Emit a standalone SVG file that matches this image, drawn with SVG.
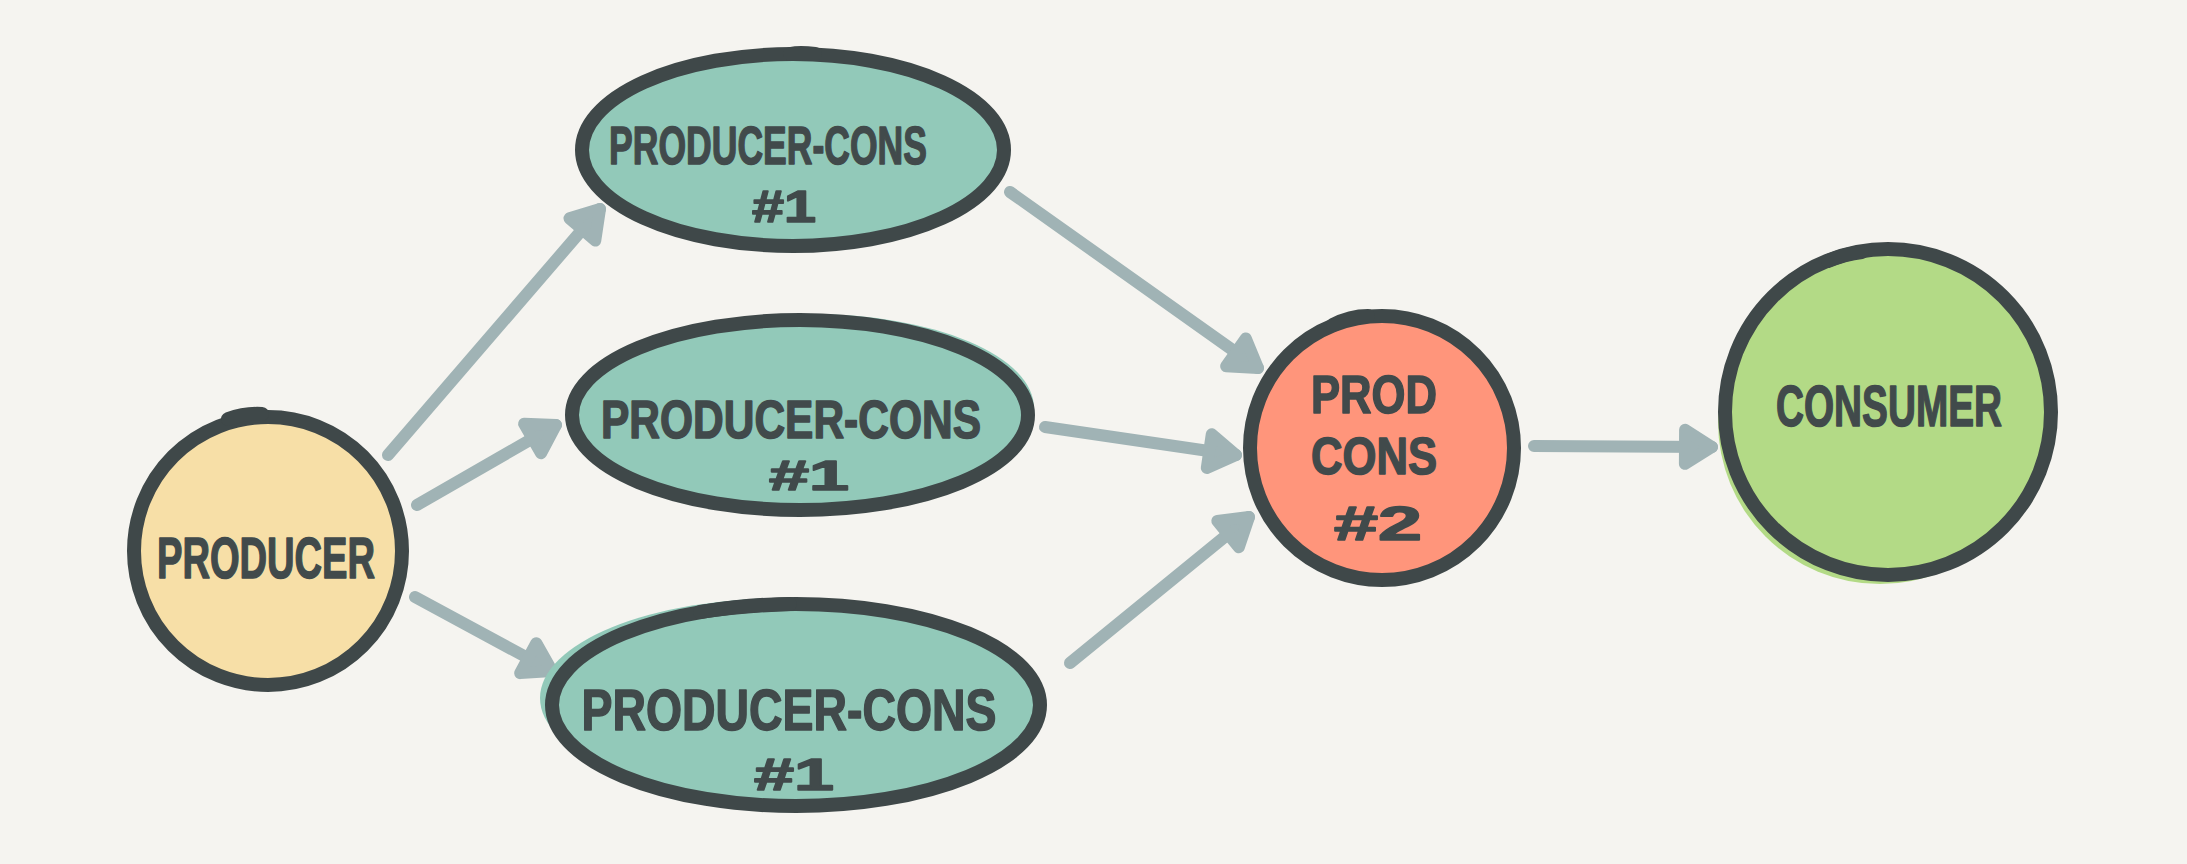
<svg xmlns="http://www.w3.org/2000/svg" width="2187" height="864" viewBox="0 0 2187 864">
<defs>
<style>
.bg{fill:#f5f4f0}
.outline{fill:none;stroke:#3f4849;stroke-width:14}
.yellow{fill:#f7dfa7}
.teal{fill:#92c9b9}
.salmon{fill:#ff957b}
.green{fill:#b3da86}
.lbl{font-family:"Liberation Sans","DejaVu Sans",sans-serif;font-weight:bold;fill:#414a4b;stroke:#414a4b;stroke-width:1.5;stroke-linejoin:round}
.edge{fill:none;stroke:#a0b3b5;stroke-width:12;stroke-linecap:round;stroke-linejoin:round}
</style>
<marker id="arrow" markerUnits="userSpaceOnUse" markerWidth="80" markerHeight="80" refX="0" refY="0" orient="auto" overflow="visible">
<path d="M-27,-17 L0,0 L-27,17 Z" fill="#a0b3b5" stroke="#a0b3b5" stroke-width="12" stroke-linejoin="round" stroke-linecap="round"/>
</marker>
</defs>
<rect class="bg" x="0" y="0" width="2187" height="864"/>

<g id="connectors">
<path class="edge" d="M388,455 L600,209" marker-end="url(#arrow)"/>
<path class="edge" d="M417,505 L556,425" marker-end="url(#arrow)"/>
<path class="edge" d="M415,597 L552,671" marker-end="url(#arrow)"/>
<path class="edge" d="M1010,192 L1258,368" marker-end="url(#arrow)"/>
<path class="edge" d="M1045,427 L1236,455" marker-end="url(#arrow)"/>
<path class="edge" d="M1070,663 L1249,517" marker-end="url(#arrow)"/>
<path class="edge" d="M1534,446 L1712,447" marker-end="url(#arrow)"/>
</g>

<g id="producer">
<circle class="yellow" cx="272" cy="548" r="134"/>
<circle class="yellow" cx="268" cy="551" r="134"/>
<circle class="outline" cx="268" cy="551" r="134"/>
<path class="outline" d="M228,419 Q245,413 262,414" stroke-linecap="round"/>
<text class="lbl" x="266" y="578" font-size="58" text-anchor="middle" textLength="218" lengthAdjust="spacingAndGlyphs">PRODUCER</text>
</g>

<g id="producer-cons-1-top">
<ellipse class="teal" cx="798" cy="153" rx="208" ry="94"/>
<ellipse class="teal" cx="793" cy="150" rx="211" ry="96"/>
<ellipse class="outline" cx="793" cy="150" rx="211" ry="96"/>
<path class="outline" d="M790,54 Q800,52 815,54" stroke-linecap="round"/>
<text class="lbl" x="768" y="164" font-size="54" text-anchor="middle" textLength="318" lengthAdjust="spacingAndGlyphs">PRODUCER-CONS</text>
<text class="lbl" x="784" y="222" font-size="44" text-anchor="middle" textLength="64" lengthAdjust="spacingAndGlyphs">#1</text>
</g>

<g id="producer-cons-1-middle">
<ellipse class="teal" cx="812" cy="408" rx="222" ry="94"/>
<ellipse class="teal" cx="800" cy="415" rx="228" ry="95"/>
<ellipse class="outline" cx="800" cy="415" rx="228" ry="95"/>
<text class="lbl" x="791" y="438" font-size="54" text-anchor="middle" textLength="380" lengthAdjust="spacingAndGlyphs">PRODUCER-CONS</text>
<text class="lbl" x="809" y="490" font-size="42" text-anchor="middle" textLength="80" lengthAdjust="spacingAndGlyphs">#1</text>
</g>

<g id="producer-cons-1-bottom">
<ellipse class="teal" cx="786" cy="698" rx="246" ry="100"/>
<ellipse class="teal" cx="796" cy="705" rx="244" ry="101"/>
<ellipse class="outline" cx="796" cy="705" rx="244" ry="101"/>
<path class="outline" d="M700,612 Q740,606 790,604" stroke-linecap="round"/>
<text class="lbl" x="789" y="730" font-size="58" text-anchor="middle" textLength="415" lengthAdjust="spacingAndGlyphs">PRODUCER-CONS</text>
<text class="lbl" x="794" y="790" font-size="44" text-anchor="middle" textLength="80" lengthAdjust="spacingAndGlyphs">#1</text>
</g>

<g id="prod-cons-2">
<circle class="salmon" cx="1376" cy="446" r="132"/>
<circle class="salmon" cx="1382" cy="448" r="132"/>
<circle class="outline" cx="1382" cy="448" r="132"/>
<path class="outline" d="M1333,325 Q1350,316 1368,316" stroke-linecap="round"/>
<text class="lbl" x="1374" y="413" font-size="54" text-anchor="middle" textLength="126" lengthAdjust="spacingAndGlyphs">PROD</text>
<text class="lbl" x="1374" y="474" font-size="52" text-anchor="middle" textLength="126" lengthAdjust="spacingAndGlyphs">CONS</text>
<text class="lbl" x="1378" y="540" font-size="48" text-anchor="middle" textLength="88" lengthAdjust="spacingAndGlyphs">#2</text>
</g>

<g id="consumer">
<circle class="green" cx="1880" cy="422" r="162"/>
<circle class="green" cx="1888" cy="412" r="163"/>
<circle class="outline" cx="1888" cy="412" r="163"/>
<path class="outline" d="M1828,261 Q1845,254 1862,252" stroke-linecap="round"/>
<text class="lbl" x="1889" y="426" font-size="58" text-anchor="middle" textLength="226" lengthAdjust="spacingAndGlyphs">CONSUMER</text>
</g>
</svg>
